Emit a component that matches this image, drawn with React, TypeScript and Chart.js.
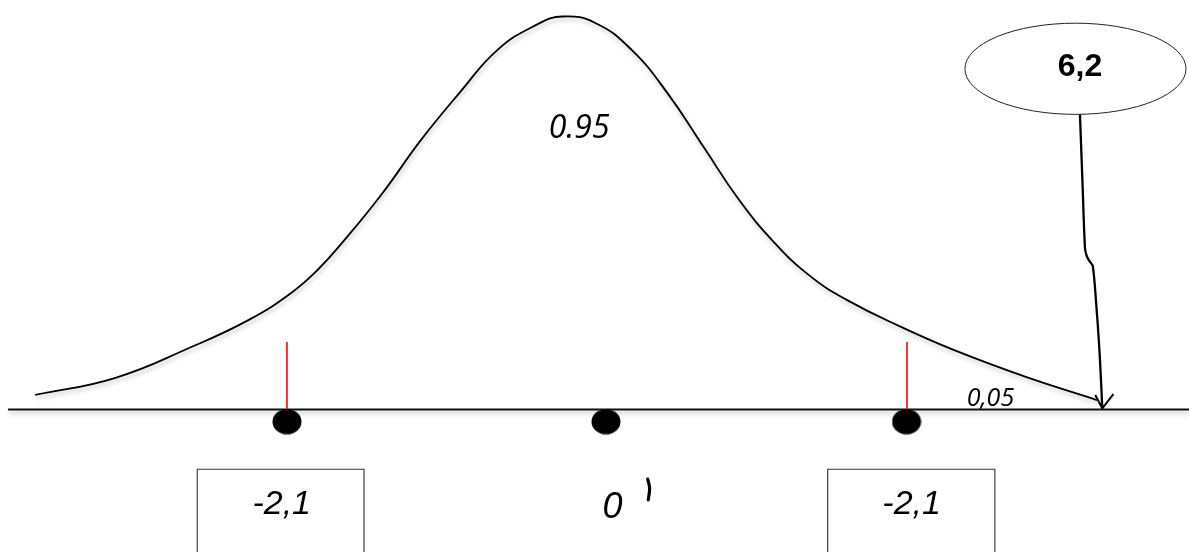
import React, { useEffect, useRef } from "react";
import { Chart, registerables } from "chart.js";

Chart.register(...registerables);

const W = 1189;
const H = 552;

// Axis extents: x in z units, y in relative density units
const zMin = -4.04;
const zMax = 3.887;
const dMin = -0.3626;
const dMax = 1.042;

// Bell curve
const curveZ = [
  -3.805, -3.275, -2.764, -2.381, -2.101, -1.923, -1.744, -1.489, -1.233, -0.978,
  -0.723, -0.468, -0.289, -0.068, 0.171, 0.41, 0.649, 0.888, 1.127, 1.366, 1.605,
  1.963, 2.322, 2.799, 3.273,
];
const curveDensity = [
  0.037, 0.08, 0.159, 0.228, 0.296, 0.355, 0.431, 0.551, 0.686, 0.805,
  0.915, 0.978, 1.0, 0.983, 0.915, 0.805, 0.669, 0.533, 0.423, 0.338, 0.279,
  0.211, 0.151, 0.083, 0.024,
];

// Base axis
const axisZ = [-3.987, 3.887];

// Critical values (red markers) and dots
const criticalZ = [-2.127, 2.007];
const criticalTop = 0.172;
const dotZ = [-2.127, 0, 2.004];
const dotLevel = -0.031;

// Boxes under the axis
const boxLabels = ["-2,1", "-2,1"];
const boxLeft = [-2.725, 1.478];
const boxRight = [-1.613, 2.593];
const boxTop = -0.152;
const boxBottom = -0.42;
const boxLabelZ = [-2.162, 2.038];
const boxLabelLevel = -0.235;

// Centre label and its small mark
const centerLabel = "0";
const centerLabelZ = 0.043;
const centerLabelLevel = -0.244;
const markZ = [0.278, 0.291, 0.282];
const markLevel = [-0.177, -0.2, -0.23];

// Area labels
const areaLabels = ["0.95", "0,05"];
const areaLabelZ = [-0.179, 2.563];
const areaLabelLevel = [0.7196, 0.0318];

// Statistic bubble and arrow
const statLabel = "6,2";
const statLabelZ = 3.16;
const statLabelLevel = 0.8766;
const bubbleZ = [2.393, 3.867];
const bubbleLevel = [0.983, 0.751];
const arrowZ = [3.16, 3.178, 3.193, 3.203, 3.222, 3.245, 3.268, 3.291, 3.309];
const arrowLevel = [0.751, 0.5655, 0.4135, 0.393, 0.378, 0.366, 0.271, 0.1437, 0.003];
const arrowHeadZ = [3.262, 3.309, 3.383];
const arrowHeadLevel = [0.0369, 0.003, 0.0394];

const pts = (xs: number[], ys: number[]) => xs.map((x, i) => ({ x, y: ys[i] }));

function makeDot(): HTMLCanvasElement {
  const c = document.createElement("canvas");
  c.width = 30;
  c.height = 26;
  const g = c.getContext("2d")!;
  g.fillStyle = "#000";
  g.beginPath();
  g.ellipse(15, 13, 14.5, 12.6, 0, 0, Math.PI * 2);
  g.fill();
  return c;
}

const shadowPlugin = {
  id: "softShadow",
  beforeDatasetDraw(chart: any, args: any) {
    const ds = chart.data.datasets[args.index];
    if (ds.shadow) {
      const c = chart.ctx;
      c.save();
      c.shadowColor = "rgba(0,0,0,0.25)";
      c.shadowBlur = 4;
      c.shadowOffsetX = 1;
      c.shadowOffsetY = 3;
    }
  },
  afterDatasetDraw(chart: any, args: any) {
    const ds = chart.data.datasets[args.index];
    if (ds.shadow) chart.ctx.restore();
  },
};

const labelPlugin = {
  id: "diagramLabels",
  afterDatasetsDraw(chart: any) {
    const c = chart.ctx;
    const xs = chart.scales.x;
    const ys = chart.scales.y;
    const px = (v: number) => xs.getPixelForValue(v);
    const py = (v: number) => ys.getPixelForValue(v);

    // bubble
    const l = px(bubbleZ[0]);
    const r = px(bubbleZ[1]);
    const t = py(bubbleLevel[0]);
    const b = py(bubbleLevel[1]);
    c.save();
    c.strokeStyle = "#222";
    c.lineWidth = 1;
    c.beginPath();
    c.ellipse((l + r) / 2, (t + b) / 2, (r - l) / 2, (b - t) / 2, 0, 0, Math.PI * 2);
    c.stroke();

    const text = (s: string, z: number, lv: number, font: string, size: number) => {
      c.font = font;
      c.fillStyle = "#000";
      c.textAlign = "center";
      c.textBaseline = "alphabetic";
      c.fillText(s, px(z), py(lv) + 0.357 * size);
    };

    text(statLabel, statLabelZ, statLabelLevel, "bold 32px 'Liberation Sans', Arial, sans-serif", 32);
    text(areaLabels[0], areaLabelZ[0], areaLabelLevel[0], "italic 32px 'Open Sans', sans-serif", 32);
    text(areaLabels[1], areaLabelZ[1], areaLabelLevel[1], "italic 25px 'Open Sans', sans-serif", 25);
    boxLabels.forEach((s, i) =>
      text(s, boxLabelZ[i], boxLabelLevel, "italic 34px 'Liberation Sans', Arial, sans-serif", 34)
    );
    text(centerLabel, centerLabelZ, centerLabelLevel, "italic 36px 'Liberation Sans', Arial, sans-serif", 36);
    c.restore();
  },
};

export default function App() {
  const ref = useRef<HTMLCanvasElement | null>(null);

  useEffect(() => {
    if (!ref.current) return;
    const dot = makeDot();
    const line = (data: any, color: string, width: number, extra: any = {}) => ({
      data,
      borderColor: color,
      borderWidth: width,
      pointRadius: 0,
      fill: false,
      tension: 0,
      ...extra,
    });

    const datasets: any[] = [
      {
        data: dotZ.map((z) => ({ x: z, y: dotLevel })),
        showLine: false,
        pointStyle: dot,
        pointRadius: 14,
        borderWidth: 0,
      },
      line(pts([criticalZ[0], criticalZ[0]], [0, criticalTop]), "#ff0000", 1.6),
      line(pts([criticalZ[1], criticalZ[1]], [0, criticalTop]), "#ff0000", 1.6),
      line(pts(arrowZ, arrowLevel), "#000", 2.3, { borderJoinStyle: "round", tension: 0.3 }),
      line(pts(arrowHeadZ, arrowHeadLevel), "#000", 2, { borderJoinStyle: "miter" }),
      line(pts(curveZ, curveDensity), "#000", 1.8, {
        tension: 0.45,
        shadow: true,
      }),
      line(pts(axisZ, [0, 0]), "#111", 2, { shadow: true }),
      ...boxLeft.map((lz, i) =>
        line(pts([lz, lz, boxRight[i], boxRight[i]], [boxBottom, boxTop, boxTop, boxBottom]), "#333", 1.1, {
          borderJoinStyle: "miter",
        })
      ),
      line(pts(markZ, markLevel), "#000", 3.2, { tension: 0.4, borderCapStyle: "round" }),
    ];

    const chart = new Chart(ref.current, {
      type: "line",
      data: { datasets },
      options: {
        animation: false,
        responsive: false,
        maintainAspectRatio: false,
        devicePixelRatio: 1,
        layout: { padding: 0, autoPadding: false },
        events: [],
        scales: {
          x: { type: "linear", min: zMin, max: zMax, display: false },
          y: { type: "linear", min: dMin, max: dMax, display: false },
        },
        plugins: { legend: { display: false }, tooltip: { enabled: false } },
      },
      plugins: [shadowPlugin, labelPlugin],
    } as any);
    return () => chart.destroy();
  }, []);

  return (
    <div style={{ position: "absolute", left: 0, top: 0, width: W, height: H, background: "#fff" }}>
      <canvas ref={ref} width={W} height={H} style={{ display: "block", width: W, height: H }} />
    </div>
  );
}
